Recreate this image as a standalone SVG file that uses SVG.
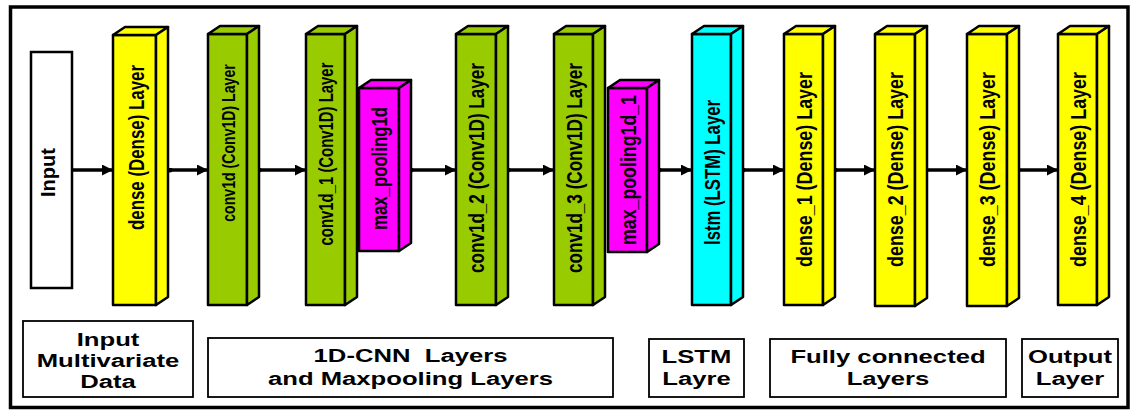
<svg xmlns="http://www.w3.org/2000/svg" width="1133" height="412" viewBox="0 0 1133 412">
  <style>
    .face { stroke: #000; stroke-width: 2.5; stroke-linejoin: round; }
    .yel { fill: #ffff00; }
    .grn { fill: #99cc00; }
    .mag { fill: #ff00ff; }
    .cyn { fill: #00ffff; }
    .lbl { font-family: "Liberation Sans", Arial, sans-serif; font-size: 22px; font-weight: bold; fill: #000; text-anchor: middle; }
    .cap { font-family: "Liberation Sans", Arial, sans-serif; font-size: 19px; font-weight: bold; fill: #000; text-anchor: middle; white-space: pre; }
    .box { fill: #fff; stroke: #000; stroke-width: 1.8; }
    .wire { stroke: #000; stroke-width: 3.5; fill: none; marker-end: url(#head); marker-start: url(#dot); }
  </style>
  <defs>
    <marker id="head" viewBox="0 0 10 10" refX="10" refY="5" markerUnits="userSpaceOnUse" markerWidth="18" markerHeight="11" orient="auto">
      <path d="M0,0 L10,5 L0,10 Z" fill="#000"/>
    </marker>
    <marker id="dot" viewBox="0 0 10 10" refX="5" refY="5" markerUnits="userSpaceOnUse" markerWidth="5" markerHeight="5" orient="auto">
      <circle cx="5" cy="5" r="5" fill="#000"/>
    </marker>
  </defs>

  <rect width="1133" height="412" fill="#fff"/>
  <!-- outer frame -->
  <rect x="10.5" y="7" width="1117.5" height="400.5" fill="none" stroke="#000" stroke-width="3.5"/>

  <!-- connectors -->
  <g id="connectors">
    <line class="wire" x1="71" y1="170" x2="113" y2="170"/>
    <line class="wire" x1="170" y1="170" x2="208" y2="170"/>
    <line class="wire" x1="259" y1="170" x2="306" y2="170"/>
    <line class="wire" x1="411" y1="170" x2="456" y2="170"/>
    <line class="wire" x1="508" y1="170" x2="554" y2="170"/>
    <line class="wire" x1="659" y1="170" x2="692" y2="170"/>
    <line class="wire" x1="743" y1="170" x2="784" y2="170"/>
    <line class="wire" x1="835" y1="170" x2="875" y2="170"/>
    <line class="wire" x1="926" y1="170" x2="967" y2="170"/>
    <line class="wire" x1="1018" y1="170" x2="1058" y2="170"/>
  </g>

  <!-- input block -->
  <g id="input">
    <rect x="31" y="52" width="41" height="236" fill="#fff" stroke="#000" stroke-width="2.5"/>
    <text class="lbl" style="font-size:20px" transform="translate(54.5,172.5) rotate(-90)" textLength="49" lengthAdjust="spacingAndGlyphs">Input</text>
  </g>

  <!-- layer prisms: front face, top face, side face -->
  <g id="dense" class="yel">
    <rect class="face" x="113" y="35" width="43" height="270"/>
    <polygon class="face" points="113,35 125,27 168,27 156,35"/>
    <polygon class="face" points="156,35 168,27 168,297 156,305"/>
    <text class="lbl" transform="translate(144,147.5) rotate(-90)" textLength="165" lengthAdjust="spacingAndGlyphs">dense (Dense) Layer</text>
  </g>

  <g id="conv1d" class="grn">
    <rect class="face" x="208" y="34" width="39" height="271"/>
    <polygon class="face" points="208,34 220,26 259,26 247,34"/>
    <polygon class="face" points="247,34 259,26 259,297 247,305"/>
    <text class="lbl" style="font-size:14.1px" transform="translate(234.5,143) scale(1.35,1) rotate(-90)">conv1d (Conv1D) Layer</text>
  </g>

  <g id="conv1d_1" class="grn">
    <rect class="face" x="306" y="34" width="39" height="271"/>
    <polygon class="face" points="306,34 318,26 357,26 345,34"/>
    <polygon class="face" points="345,34 357,26 357,297 345,305"/>
    <text class="lbl" style="font-size:14.9px" transform="translate(332.5,154) scale(1.35,1) rotate(-90)">conv1d_1 (Conv1D) Layer</text>
  </g>

  <g id="max_pooling1d" class="mag">
    <rect class="face" x="359" y="88" width="40" height="163"/>
    <polygon class="face" points="359,88 371,80 411,80 399,88"/>
    <polygon class="face" points="399,88 411,80 411,243 399,251"/>
    <text class="lbl" transform="translate(387,168.5) rotate(-90)" textLength="123" lengthAdjust="spacingAndGlyphs">max_pooling1d</text>
  </g>

  <g id="conv1d_2" class="grn">
    <rect class="face" x="456" y="34" width="40" height="271"/>
    <polygon class="face" points="456,34 468,26 508,26 496,34"/>
    <polygon class="face" points="496,34 508,26 508,297 496,305"/>
    <text class="lbl" transform="translate(484,168) rotate(-90)" textLength="210" lengthAdjust="spacingAndGlyphs">conv1d_2 (Conv1D) Layer</text>
  </g>

  <g id="conv1d_3" class="grn">
    <rect class="face" x="554" y="34" width="39" height="271"/>
    <polygon class="face" points="554,34 566,26 605,26 593,34"/>
    <polygon class="face" points="593,34 605,26 605,297 593,305"/>
    <text class="lbl" transform="translate(581.5,168) rotate(-90)" textLength="210" lengthAdjust="spacingAndGlyphs">conv1d_3 (Conv1D) Layer</text>
  </g>

  <g id="max_pooling1d_1" class="mag">
    <rect class="face" x="608" y="88" width="39" height="164"/>
    <polygon class="face" points="608,88 620,80 659,80 647,88"/>
    <polygon class="face" points="647,88 659,80 659,244 647,252"/>
    <text class="lbl" transform="translate(635.5,170) rotate(-90)" textLength="150" lengthAdjust="spacingAndGlyphs">max_pooling1d_1</text>
  </g>

  <g id="lstm" class="cyn">
    <rect class="face" x="692" y="34" width="39" height="271"/>
    <polygon class="face" points="692,34 704,26 743,26 731,34"/>
    <polygon class="face" points="731,34 743,26 743,297 731,305"/>
    <text class="lbl" transform="translate(719.5,172.5) rotate(-90)" textLength="145" lengthAdjust="spacingAndGlyphs">lstm (LSTM) Layer</text>
  </g>

  <g id="dense_1" class="yel">
    <rect class="face" x="784" y="34" width="39" height="271"/>
    <polygon class="face" points="784,34 796,26 835,26 823,34"/>
    <polygon class="face" points="823,34 835,26 835,297 823,305"/>
    <text class="lbl" transform="translate(811.5,169.5) rotate(-90)" textLength="195" lengthAdjust="spacingAndGlyphs">dense_1 (Dense) Layer</text>
  </g>

  <g id="dense_2" class="yel">
    <rect class="face" x="875" y="34" width="40" height="272"/>
    <polygon class="face" points="875,34 887,26 927,26 915,34"/>
    <polygon class="face" points="915,34 927,26 927,298 915,306"/>
    <text class="lbl" transform="translate(903,169.5) rotate(-90)" textLength="195" lengthAdjust="spacingAndGlyphs">dense_2 (Dense) Layer</text>
  </g>

  <g id="dense_3" class="yel">
    <rect class="face" x="967" y="34" width="40" height="272"/>
    <polygon class="face" points="967,34 979,26 1019,26 1007,34"/>
    <polygon class="face" points="1007,34 1019,26 1019,298 1007,306"/>
    <text class="lbl" transform="translate(995,169.5) rotate(-90)" textLength="195" lengthAdjust="spacingAndGlyphs">dense_3 (Dense) Layer</text>
  </g>

  <g id="dense_4" class="yel">
    <rect class="face" x="1058" y="34" width="39" height="271"/>
    <polygon class="face" points="1058,34 1070,26 1109,26 1097,34"/>
    <polygon class="face" points="1097,34 1109,26 1109,297 1097,305"/>
    <text class="lbl" transform="translate(1085.5,169.5) rotate(-90)" textLength="195" lengthAdjust="spacingAndGlyphs">dense_4 (Dense) Layer</text>
  </g>

  <!-- stage captions -->
  <g id="cap_input">
    <rect class="box" x="23" y="321" width="170" height="76"/>
    <text class="cap" transform="translate(108,346) scale(1.35,1)">Input</text>
    <text class="cap" transform="translate(108,367) scale(1.35,1)">Multivariate</text>
    <text class="cap" transform="translate(108,388) scale(1.35,1)">Data</text>
  </g>
  <g id="cap_cnn">
    <rect class="box" x="208" y="338" width="405" height="59"/>
    <text class="cap" transform="translate(410.5,362) scale(1.35,1)">1D-CNN  Layers</text>
    <text class="cap" transform="translate(410.5,385) scale(1.35,1)">and Maxpooling Layers</text>
  </g>
  <g id="cap_lstm">
    <rect class="box" x="649" y="339" width="95" height="58"/>
    <text class="cap" transform="translate(696.5,363) scale(1.35,1)">LSTM</text>
    <text class="cap" transform="translate(696.5,385) scale(1.35,1)">Layre</text>
  </g>
  <g id="cap_fc">
    <rect class="box" x="770" y="339" width="236" height="58"/>
    <text class="cap" transform="translate(888,363) scale(1.35,1)">Fully connected</text>
    <text class="cap" transform="translate(888,385) scale(1.35,1)">Layers</text>
  </g>
  <g id="cap_output">
    <rect class="box" x="1022" y="339" width="96" height="58"/>
    <text class="cap" transform="translate(1070,363) scale(1.35,1)">Output</text>
    <text class="cap" transform="translate(1070,385) scale(1.35,1)">Layer</text>
  </g>
</svg>
